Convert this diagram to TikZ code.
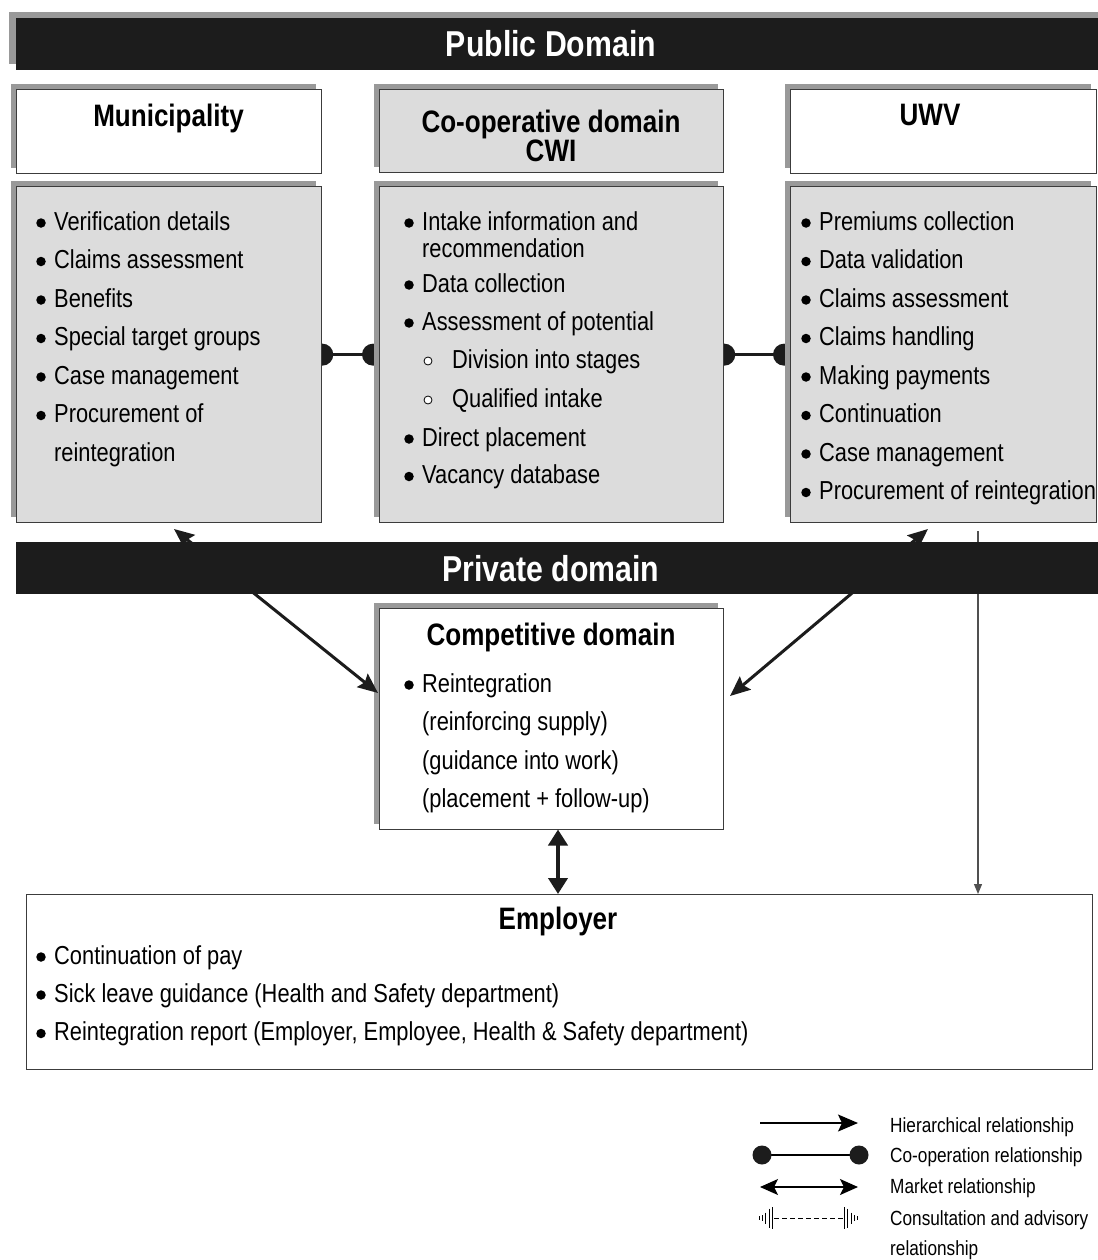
\documentclass[tikz,border=0pt]{standalone}
\usepackage{fontspec}
\setmainfont{Liberation Sans}[FakeStretch=0.84]
\usetikzlibrary{shadows,arrows.meta,calc}
\pgfdeclarelayer{back}
\pgfdeclarelayer{bg}
\pgfsetlayers{back,bg,main}
\definecolor{shadowc}{HTML}{999999}
\definecolor{boxgray}{HTML}{DCDCDC}
\definecolor{barblack}{HTML}{1C1C1C}
\definecolor{edgec}{HTML}{3C3C3C}
\definecolor{thinc}{HTML}{505050}
\tikzset{
 panel/.style={draw=edgec, line width=1.3pt, anchor=north west, inner sep=0pt,
   general shadow={fill=shadowc, shadow xshift=-6pt, shadow yshift=6pt}},
 whitepanel/.style={panel, fill=white},
 graypanel/.style={panel, fill=boxgray},
 plainpanel/.style={draw=edgec, line width=1.3pt, anchor=north west, inner sep=0pt, fill=white},
 bar/.style={fill=barblack, draw=none, anchor=north west, inner sep=0pt},
 bartext/.style={text=white, font=\fontsize{36}{40}\selectfont\bfseries, anchor=base, inner sep=0pt},
 title/.style={font=\fontsize{31}{36}\selectfont\bfseries, anchor=base, inner sep=0pt},
 item/.style={font=\fontsize{26}{30}\selectfont, anchor=base west, inner sep=0pt},
 legtext/.style={font=\fontsize{20.5}{24}\selectfont, anchor=base west, inner sep=0pt},
 dotb/.style={circle, fill=black, draw=none, inner sep=0pt, minimum size=9.5pt},
 odot/.style={circle, draw=black, fill=white, line width=0.8pt, inner sep=0pt, minimum size=8pt},
 coopline/.style={line width=3pt, draw=barblack},
 coopdot/.style={circle, fill=barblack, draw=none, inner sep=0pt, minimum size=22pt},
 legdot/.style={circle, fill=barblack, draw=none, inner sep=0pt, minimum size=19pt},
 market/.style={line width=3pt, draw=barblack, {Stealth[length=20pt,width=17pt,inset=3pt]}-{Stealth[length=20pt,width=17pt,inset=3pt]}},
 vmarket/.style={line width=4pt, draw=barblack, {Triangle[length=16pt,width=19pt]}-{Triangle[length=16pt,width=19pt]}},
 hier/.style={line width=1.2pt, draw=thinc, -{Triangle[length=10pt,width=8pt]}},
 leghier/.style={line width=1.3pt, draw=black, -{Stealth[length=20pt,width=17pt,inset=4pt]}},
 legmarket/.style={line width=1.3pt, draw=black, {Stealth[length=18pt,width=16pt,inset=4pt]}-{Stealth[length=18pt,width=16pt,inset=4pt]}},
 tick/.style={line width=1pt, draw=black},
}
\newcommand{\bitem}[4]{%
  \node[dotb] (#1d) at (#2-13,#3-7) {};
  \node[item] (#1) at (#2,#3) {#4};}
\newcommand{\oitem}[4]{%
  \node[odot] (#1d) at (#2-24,#3-7) {};
  \node[item] (#1) at (#2,#3) {#4};}
\begin{document}
\begin{tikzpicture}[x=1pt,y=-1pt]
\useasboundingbox (0,0) rectangle (1097,1260);
\begin{pgfonlayer}{back}
\fill[white] (0,0) rectangle (1097,1260);
\end{pgfonlayer}

% Public domain bar
\node[bar, minimum width=1090pt, minimum height=52pt,
  general shadow={fill=shadowc, shadow xshift=-7pt, shadow yshift=6pt}] (pub) at (16,18) {};
\node[bartext] (pubt) at (551,57) {Public Domain};

% header boxes
\node[whitepanel, minimum width=305pt, minimum height=84pt] (munH) at (16,89) {};
\node[graypanel, minimum width=344pt, minimum height=83pt] (cwiH) at (379,89) {};
\node[whitepanel, minimum width=306pt, minimum height=84pt] (uwvH) at (790,89) {};
\node[title] (munT) at (168.5,127) {Municipality};
\node[title] (cwiT1) at (551,133) {Co-operative domain};
\node[title] (cwiT2) at (551,162) {CWI};
\node[title] (uwvT) at (930,126) {UWV};

% content boxes
\node[graypanel, minimum width=305pt, minimum height=336pt] (munC) at (16,186) {};
\node[graypanel, minimum width=344pt, minimum height=336pt] (cwiC) at (379,186) {};
\node[graypanel, minimum width=306pt, minimum height=336pt] (uwvC) at (790,186) {};

% co-operation connectors (behind boxes)
\begin{pgfonlayer}{bg}
\coordinate (cwiS) at ($(cwiC.west)+(-6,0)$);
\coordinate (uwvS) at ($(uwvC.west)+(-6,0)$);
\draw[coopline] (munC.east) -- (cwiS);
\node[coopdot] (cd1) at (munC.east) {};
\node[coopdot] (cd2) at (cwiS) {};
\draw[coopline] (cwiC.east) -- (uwvS);
\node[coopdot] (cd3) at (cwiC.east) {};
\node[coopdot] (cd4) at (uwvS) {};
\end{pgfonlayer}

% Municipality items
\bitem{m1}{54}{230}{Verification details}
\bitem{m2}{54}{268.5}{Claims assessment}
\bitem{m3}{54}{307}{Benefits}
\bitem{m4}{54}{345.5}{Special target groups}
\bitem{m5}{54}{384}{Case management}
\bitem{m6}{54}{422.5}{Procurement of}
\node[item] (m7) at (54,461) {reintegration};

% CWI items
\bitem{c1}{422}{230}{Intake information and}
\node[item] (c1b) at (422,257) {recommendation};
\bitem{c2}{422}{292}{Data collection}
\bitem{c3}{422}{330}{Assessment of potential}
\oitem{c4}{452}{368}{Division into stages}
\oitem{c5}{452}{407}{Qualified intake}
\bitem{c6}{422}{446}{Direct placement}
\bitem{c7}{422}{483.5}{Vacancy database}

% UWV items
\bitem{u1}{819}{230}{Premiums collection}
\bitem{u2}{819}{268.5}{Data validation}
\bitem{u3}{819}{307}{Claims assessment}
\bitem{u4}{819}{345.5}{Claims handling}
\bitem{u5}{819}{384}{Making payments}
\bitem{u6}{819}{422.5}{Continuation}
\bitem{u7}{819}{461}{Case management}
\bitem{u8}{819}{499.5}{Procurement of reintegration}

% Competitive domain
\node[whitepanel, minimum width=344pt, minimum height=221pt] (comp) at (379,608) {};
\node[title] (compT) at (551,645) {Competitive domain};
\bitem{k1}{422}{692}{Reintegration}
\node[item] (k2) at (422,730.5) {(reinforcing supply)};
\node[item] (k3) at (422,769) {(guidance into work)};
\node[item] (k4) at (422,807.5) {(placement + follow-up)};

% Employer
\node[plainpanel, minimum width=1066pt, minimum height=175pt] (emp) at (26,894) {};
\node[title] (empT) at (558,929) {Employer};
\bitem{e1}{54}{964}{Continuation of pay}
\bitem{e2}{54}{1002}{Sick leave guidance (Health and Safety department)}
\bitem{e3}{54}{1040.5}{Reintegration report (Employer, Employee, Health \& Safety department)}

% market arrows (under the private bar)
\coordinate (mt) at (174,529);
\coordinate (ct1) at (378,693);
\coordinate (ut) at (928,529);
\coordinate (ct2) at (730,696);
\draw[market] (mt) -- (ct1);
\draw[market] (ut) -- (ct2);

% hierarchical line UWV -> Employer
\coordinate (hs) at (978,531);
\coordinate (he) at (emp.north -| hs);
\draw[hier] (hs) -- (he);

% market arrow competitive <-> employer
\coordinate (va) at (558,829.5);
\coordinate (vb) at (emp.north -| va);
\draw[vmarket] (va) -- (vb);

% Private domain bar
\node[bar, minimum width=1090pt, minimum height=52pt] (priv) at (16,542) {};
\node[bartext] (privt) at (551,581) {Private domain};

% Legend
\coordinate (l1a) at (760,1123); \coordinate (l1b) at (858,1123);
\draw[leghier] (l1a) -- (l1b);
\node[legtext] (lt1) at (890,1132) {Hierarchical relationship};

\coordinate (l2a) at (762,1155); \coordinate (l2b) at (859,1155);
\draw[line width=1.3pt] (l2a) -- (l2b);
\node[legdot] (ld1) at (l2a) {};
\node[legdot] (ld2) at (l2b) {};
\node[legtext] (lt2) at (890,1162) {Co-operation relationship};

\coordinate (l3a) at (760,1187); \coordinate (l3b) at (858,1187);
\draw[legmarket] (l3a) -- (l3b);
\node[legtext] (lt3) at (890,1193) {Market relationship};

\coordinate (l4a) at (774,1218); \coordinate (l4b) at (843,1218);
\draw[line width=1pt, dash pattern=on 5pt off 3pt] (l4a) -- (l4b);
\foreach \xx/\hh in {759/4,762/6,765.5/11,769/19,772.5/22,844/22,847.5/19,851/11,854.5/6,857.5/4}
  \draw[tick] (\xx,1218-\hh/2) -- (\xx,1218+\hh/2);
\node[legtext] (lt4) at (890,1225) {Consultation and advisory};
\node[legtext] (lt5) at (890,1255) {relationship};
\end{tikzpicture}
\end{document}
